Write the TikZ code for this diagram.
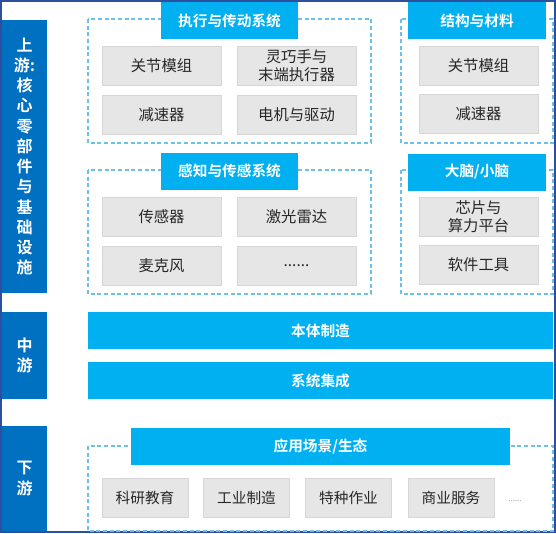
\documentclass[tikz,border=0pt]{standalone}
\usepackage{fontspec}
\setmainfont{Noto Sans CJK SC}[BoldFont={Noto Sans CJK SC Bold}]
\definecolor{darkbar}{HTML}{0070C0}
\definecolor{lightbar}{HTML}{00B0F0}
\definecolor{boxgray}{HTML}{E6E6E6}
\definecolor{boxline}{HTML}{D6D6D6}
\definecolor{frameblue}{HTML}{6CC0EA}
\definecolor{edgeblue}{HTML}{2E4E9E}
\tikzset{
 levelbar/.style={fill=darkbar, text=white, font=\bfseries\fontsize{12}{15.2}\selectfont, align=center, inner sep=0pt, minimum width=33.75pt},
 headbar/.style={fill=lightbar, text=white, font=\bfseries\fontsize{11}{13}\selectfont, inner sep=0pt, minimum height=27.75pt},
 partbox/.style={fill=boxgray, draw=boxline, line width=0.6pt, text=black!85, font=\fontsize{11.5}{13.5}\selectfont, align=center, inner sep=0pt, minimum width=89.25pt, minimum height=29.25pt},
 fieldbox/.style={partbox, font=\fontsize{11}{13}\selectfont, minimum width=64.5pt},
 groupframe/.style={draw=frameblue, line width=0.9pt, dash pattern=on 3pt off 2pt},
}
\newcommand{\dashframe}[4]{% levo, zgoraj, desno, spodaj
\draw[groupframe] (#1,#2) rectangle (#3,#4);
}

\begin{document}
\begin{tikzpicture}[x=0.75pt, y=-0.75pt]
			\useasboundingbox (0,0) rectangle (556,533);
			\draw[edgeblue, line width=1.2pt] (0.8,0.8) rectangle (555.2,532.2);

			\node[levelbar, minimum height=204.75pt] (up) at (24.5,156.5) {上\\游:\\核\\心\\零\\部\\件\\与\\基\\础\\设\\施};
			\node[levelbar, minimum height=65.25pt] (mid) at (24.5,355.5) {中\\游};
			\node[levelbar, minimum height=78.75pt] (down) at (24.5,478.5) {下\\游};

			\dashframe{88}{19}{371}{143}
			\dashframe{88}{170}{371}{294}
			\dashframe{401}{19}{553}{143}
			\dashframe{401}{170}{553}{294}
			\dashframe{88}{446}{553}{531}

			\node[headbar, minimum width=102.75pt] (drive) at (229.5,20.5) {执行与传动系统};
			\node[headbar, minimum width=102.75pt] (sense) at (229.5,171) {感知与传感系统};
			\node[headbar, minimum width=103.5pt] (struct) at (477,20.5) {结构与材料};
			\node[headbar, minimum width=103.5pt] (brain) at (477,172) {大脑/小脑};

			\node[partbox] (joint) at (161.5,65.5) {关节模组};
			\node[partbox] (hand) at (296.5,65.5) {灵巧手与\\末端执行器};
			\node[partbox] (reducer) at (161.5,115) {减速器};
			\node[partbox] (motor) at (296.5,115) {电机与驱动};

			\node[partbox] (sensor) at (161.5,216.5) {传感器};
			\node[partbox] (lidar) at (296.5,216.5) {激光雷达};
			\node[partbox] (mic) at (161.5,265.5) {麦克风};
			\node[partbox] (more) at (296.5,265.5) {......};

			\node[partbox] (sjoint) at (478.5,65.5) {关节模组};
			\node[partbox] (sreducer) at (478.5,113.5) {减速器};
			\node[partbox] (chip) at (478.5,216.5) {芯片与\\算力平台};
			\node[partbox] (soft) at (478.5,264.5) {软件工具};

			\node[headbar, minimum width=348.75pt] (body) at (320.5,330.5) {本体制造};
			\node[headbar, minimum width=348.75pt] (integ) at (320.5,380.5) {系统集成};

			\node[headbar, minimum width=284.25pt] (apps) at (320.5,446.5) {应用场景/生态};
			\node[fieldbox] (edu) at (145,497.5) {科研教育};
			\node[fieldbox] (ind) at (246.5,497.5) {工业制造};
			\node[fieldbox] (spec) at (348.5,497.5) {特种作业};
			\node[fieldbox] (biz) at (451,497.5) {商业服务};
			\node[text=black!40, font=\fontsize{6}{6}\selectfont] (etc) at (515,501) {......};

			\end{tikzpicture}
\end{document}
